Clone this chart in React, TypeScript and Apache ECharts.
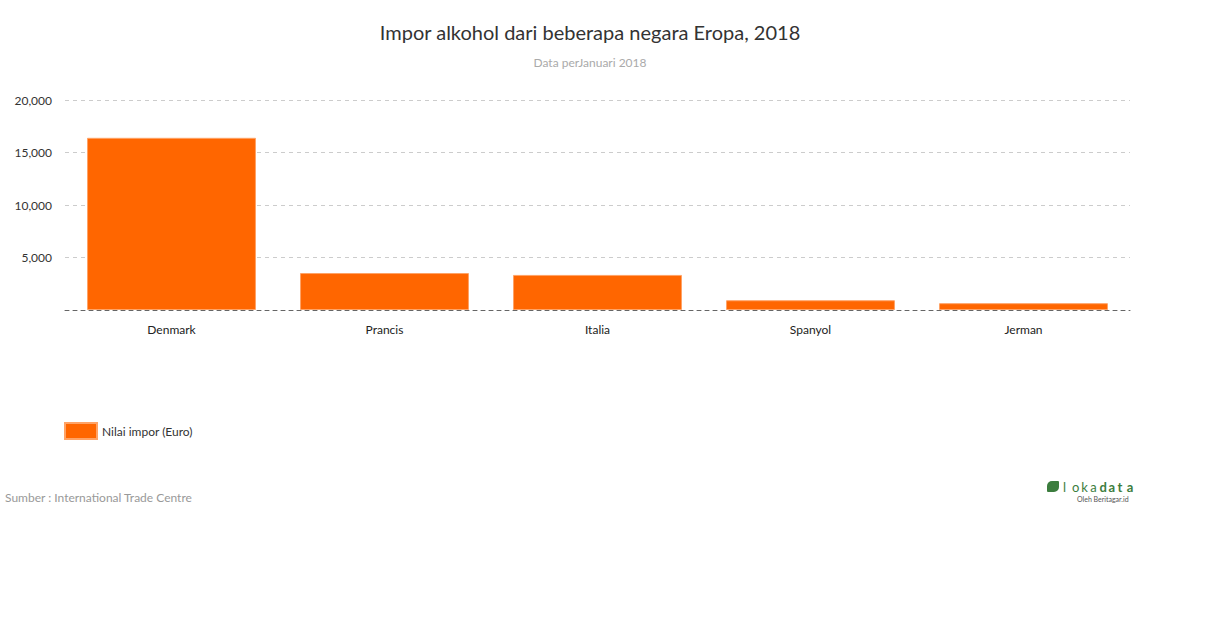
import React, { useEffect, useRef } from "react";
import * as echarts from "echarts";

const categories = ["Denmark", "Prancis", "Italia", "Spanyol", "Jerman"];
const values = [16400, 3520, 3340, 930, 650];
const seriesName = "Nilai impor (Euro)";
const titleText = "Impor alkohol dari beberapa negara Eropa, 2018";
const subtitleText = "Data perJanuari 2018";
const sourceText = "Sumber : International Trade Centre";
const logoLetters = ["l", "o", "k", "a", "d", "a", "t", "a"];

export default function App() {
  const ref = useRef<HTMLDivElement>(null);
  useEffect(() => {
    document.body.style.margin = "0";
    const chart = echarts.init(ref.current!, null, { renderer: "svg" });
    const font = "Lato, 'Open Sans', sans-serif";
    const green = "#3c7d3e";
    const logoText = logoLetters.map((ch, i) => ({
      type: "text",
      x: 1063 + i * 9.1,
      y: 480,
      style: {
        text: ch,
        fontSize: 13,
        fontWeight: i >= 4 ? "bold" : "normal",
        fill: green,
        fontFamily: font,
      },
    }));
    chart.setOption({
      animation: false,
      textStyle: { fontFamily: font },
      title: {
        text: titleText,
        subtext: subtitleText,
        left: 585,
        textAlign: "center",
        top: 17,
        itemGap: 14,
        textStyle: { fontSize: 20, fontWeight: "normal", color: "#333", fontFamily: font },
        subtextStyle: { fontSize: 12, color: "#aaa", fontFamily: font },
      },
      legend: {
        left: 64,
        top: 422,
        padding: 0,
        itemWidth: 32,
        itemHeight: 16,
        itemGap: 5,
        textStyle: { fontSize: 12, color: "#333", fontFamily: font },
        data: [{ name: seriesName, icon: "rect" }],
      },
      grid: { left: 65, right: 80, top: 100, height: 210, containLabel: false },
      xAxis: {
        type: "category",
        data: categories,
        axisLine: { show: true, lineStyle: { color: "#666", type: [4, 4], width: 1 } },
        axisTick: { show: false },
        axisLabel: { color: "#222", fontSize: 12, margin: 13, fontFamily: font },
      },
      yAxis: {
        type: "value",
        min: 0,
        max: 20000,
        interval: 5000,
        axisLine: { show: false },
        axisTick: { show: false },
        axisLabel: {
          color: "#333",
          fontSize: 12,
          margin: 13,
          fontFamily: font,
          formatter: (v: number) => (v === 0 ? "" : v.toLocaleString("en-US")),
        },
        splitLine: { lineStyle: { color: "#ccc", type: [4, 4] } },
      },
      series: [
        {
          name: seriesName,
          type: "bar",
          data: values,
          barWidth: "79.3%",
          itemStyle: { color: "#ff6600", borderColor: "#ffa366", borderWidth: 1 },
        },
      ],
      graphic: [
        {
          type: "text",
          left: 5,
          top: 491,
          style: { text: sourceText, fontSize: 12, fill: "#999", fontFamily: font },
        },
        {
          type: "rect",
          shape: { x: 1047, y: 481, width: 12, height: 11, r: [5, 1, 5, 1] },
          style: { fill: green },
        },
        ...logoText,
        {
          type: "text",
          x: 1077,
          y: 495,
          style: { text: "Oleh Beritagar.id", fontSize: 7, fill: "#555", fontFamily: font },
        },
      ],
    });
    return () => chart.dispose();
  }, []);
  return <div ref={ref} style={{ width: 1210, height: 628 }} />;
}
